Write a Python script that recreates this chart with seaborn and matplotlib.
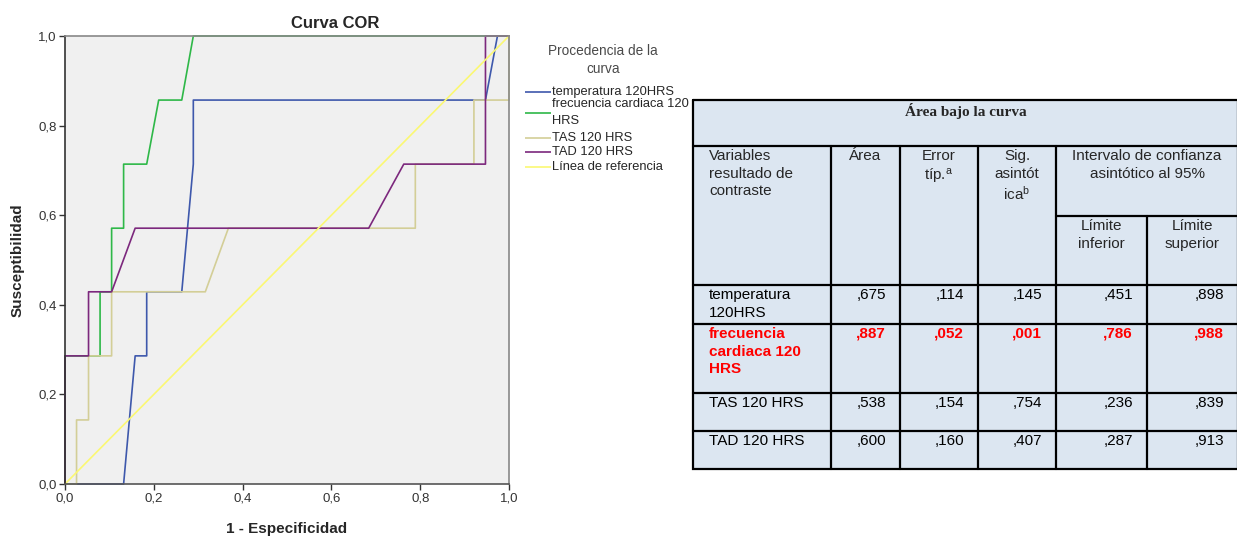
import numpy as np
import pandas as pd
import matplotlib
matplotlib.use("Agg")
import matplotlib.pyplot as plt
from matplotlib.patches import Rectangle
import seaborn as sns

# ---------------- data ----------------
series_names = ["temperatura 120HRS", "frecuencia cardiaca 120 HRS", "TAS 120 HRS", "TAD 120 HRS"]
legend_labels = ["temperatura 120HRS", "frecuencia cardiaca 120\nHRS", "TAS 120 HRS", "TAD 120 HRS",
                 "Línea de referencia"]
legend_title = "Procedencia de la\ncurva"

fpr_temp = [0.000, 0.132, 0.158, 0.184, 0.184, 0.263, 0.289, 0.289, 0.947, 0.974, 1.000]
tpr_temp = [0.000, 0.000, 0.286, 0.286, 0.429, 0.429, 0.714, 0.857, 0.857, 1.000, 1.000]

fpr_fc = [0.000, 0.000, 0.079, 0.079, 0.105, 0.105, 0.132, 0.132, 0.184, 0.211, 0.263, 0.289, 1.000]
tpr_fc = [0.000, 0.286, 0.286, 0.429, 0.429, 0.571, 0.571, 0.714, 0.714, 0.857, 0.857, 1.000, 1.000]

fpr_tas = [0.000, 0.026, 0.026, 0.053, 0.053, 0.105, 0.105, 0.316, 0.368, 0.789, 0.789, 0.921, 0.921, 1.000, 1.000]
tpr_tas = [0.000, 0.000, 0.143, 0.143, 0.286, 0.286, 0.429, 0.429, 0.571, 0.571, 0.714, 0.714, 0.857, 0.857, 1.000]

fpr_tad = [0.000, 0.000, 0.053, 0.053, 0.105, 0.158, 0.684, 0.763, 0.947, 0.947, 1.000]
tpr_tad = [0.000, 0.286, 0.286, 0.429, 0.429, 0.571, 0.571, 0.714, 0.714, 1.000, 1.000]

ref_x = [0.0, 1.0]
ref_y = [0.0, 1.0]

tick_values = [0.0, 0.2, 0.4, 0.6, 0.8, 1.0]
tick_labels = ["0,0", "0,2", "0,4", "0,6", "0,8", "1,0"]

# table data
table_title = "Área bajo la curva"
row_names = ["temperatura\n120HRS", "frecuencia\ncardiaca 120\nHRS", "TAS 120 HRS", "TAD 120 HRS"]
area = [0.675, 0.887, 0.538, 0.600]
error_tip = [0.114, 0.052, 0.154, 0.160]
sig_asint = [0.145, 0.001, 0.754, 0.407]
lim_inf = [0.451, 0.786, 0.236, 0.287]
lim_sup = [0.898, 0.988, 0.839, 0.913]
highlight_row = 1

# ---------------- style ----------------
sns.set_style("white")
plt.rcParams["font.family"] = ["Liberation Sans", "DejaVu Sans"]
plt.rcParams["mathtext.fontset"] = "custom"
plt.rcParams["mathtext.rm"] = "Liberation Sans"
plt.rcParams["mathtext.it"] = "Liberation Sans"

colors = ["#3E58AC", "#2EB848", "#D3CE97", "#7C287D"]
ref_color = "#FBF873"

W, H = 1237, 539
fig = plt.figure(figsize=(W / 100, H / 100), dpi=100)
fig.patch.set_facecolor("white")

# ---------------- ROC axes ----------------
ax = fig.add_axes([65 / W, 1 - 484 / H, 444 / W, 448 / H])
ax.set_facecolor("#F0F0F0")

frames = []
for name, fx, ty in zip(series_names, [fpr_temp, fpr_fc, fpr_tas, fpr_tad],
                        [tpr_temp, tpr_fc, tpr_tas, tpr_tad]):
    frames.append(pd.DataFrame({"fpr": fx, "tpr": ty, "serie": name}))
df = pd.concat(frames, ignore_index=True)

sns.lineplot(data=df, x="fpr", y="tpr", hue="serie", hue_order=series_names,
             palette=dict(zip(series_names, colors)), sort=False, estimator=None,
             legend=False, ax=ax, linewidth=1.2, clip_on=False)
sns.lineplot(x=ref_x, y=ref_y, color=ref_color, linewidth=1.2, ax=ax, clip_on=False)

ax.set_xlim(0, 1)
ax.set_ylim(0, 1)
ax.set_xticks(tick_values)
ax.set_xticklabels(tick_labels)
ax.set_yticks(tick_values)
ax.set_yticklabels(tick_labels)
ax.tick_params(axis="both", which="both", direction="out", length=4, width=1.0,
               color="#333333", labelsize=9.5, labelcolor="#333333", pad=2,
               bottom=True, left=True)
for side, sp in ax.spines.items():
    sp.set_visible(True)
    sp.set_linewidth(1.2)
    sp.set_color("#888888")
ax.spines["left"].set_color("#333333")
ax.spines["bottom"].set_color("#555555")

ax.set_title("Curva COR", fontsize=12, fontweight="bold", pad=6, x=0.608)
ax.set_xlabel("1 - Especificidad", fontsize=11, fontweight="bold", labelpad=13)
ax.set_ylabel("Susceptibilidad", fontsize=11, fontweight="bold", labelpad=10)

# ---------------- overlay axes in pixel coordinates ----------------
tx = fig.add_axes([0, 0, 1, 1])
tx.set_xlim(0, W)
tx.set_ylim(H, 0)
tx.set_axis_off()

# legend (drawn manually to match layout)
tx.text(603, 60, legend_title, ha="center", va="center", fontsize=9.8, color="#4a4a4a",
        linespacing=1.3, multialignment="center")
leg_y = [92, 112.5, 138, 152, 167]
for c, lab, yy in zip(colors + [ref_color], legend_labels, leg_y):
    tx.plot([525, 551], [yy, yy], color=c, lw=1.2, solid_capstyle="butt")
    tx.text(552, yy, lab, ha="left", va="center", fontsize=9.3, linespacing=1.55)

# table
cols_x = [693, 831, 900, 978, 1056, 1147, 1238]
top_y, title_bottom, sub_y, header_bottom = 100, 146, 216, 285
row_bottoms = [324, 393, 431, 469]

tx.add_patch(Rectangle((cols_x[0], top_y), cols_x[-1] - cols_x[0], row_bottoms[-1] - top_y,
                       facecolor="#DCE6F1", edgecolor="none", zorder=0))
lw = 1.6
tx.plot([cols_x[0], cols_x[-1], cols_x[-1], cols_x[0], cols_x[0]],
        [top_y, top_y, row_bottoms[-1], row_bottoms[-1], top_y], color="black", lw=lw,
        solid_joinstyle="miter")
for yy in [title_bottom, header_bottom] + row_bottoms[:-1]:
    tx.plot([cols_x[0], cols_x[-1]], [yy, yy], color="black", lw=lw)
tx.plot([cols_x[4], cols_x[-1]], [sub_y, sub_y], color="black", lw=lw)
for xx in cols_x[1:5]:
    tx.plot([xx, xx], [title_bottom, row_bottoms[-1]], color="black", lw=lw)
tx.plot([cols_x[5], cols_x[5]], [sub_y, row_bottoms[-1]], color="black", lw=lw)

tx.text((cols_x[0] + cols_x[-1]) / 2, 111, table_title, ha="center", va="center",
        fontsize=11, fontweight="bold", family="Liberation Serif")

fs = 11
ls = 1.32
hy = 149
tx.text(cols_x[0] + 16, hy, "Variables\nresultado de\ncontraste", ha="left", va="top",
        fontsize=fs, linespacing=ls)
tx.text((cols_x[1] + cols_x[2]) / 2, hy, "Área", ha="center", va="top", fontsize=fs)
tx.text((cols_x[2] + cols_x[3]) / 2, hy, "Error\ntíp.$^{\\mathrm{a}}$", ha="center", va="top",
        fontsize=fs, linespacing=ls)
tx.text((cols_x[3] + cols_x[4]) / 2, hy, "Sig.\nasintót\nica$^{\\mathrm{b}}$", ha="center",
        va="top", fontsize=fs, linespacing=ls)
tx.text((cols_x[4] + cols_x[6]) / 2, hy, "Intervalo de confianza\nasintótico al 95%",
        ha="center", va="top", fontsize=fs, linespacing=ls)
tx.text((cols_x[4] + cols_x[5]) / 2, 219, "Límite\ninferior", ha="center", va="top",
        fontsize=fs, linespacing=ls)
tx.text((cols_x[5] + cols_x[6]) / 2, 219, "Límite\nsuperior", ha="center", va="top",
        fontsize=fs, linespacing=ls)


def fmt(v):
    return f"{v:.3f}".lstrip("0").replace(".", ",")


row_tops = [header_bottom] + row_bottoms[:-1]
for i, name in enumerate(row_names):
    ytop = row_tops[i] + 3
    hl = i == highlight_row
    color = "#FF0000" if hl else "black"
    weight = "bold" if hl else "normal"
    tx.text(cols_x[0] + 16, ytop, name, ha="left", va="top", fontsize=fs,
            color=color, fontweight=weight, linespacing=ls)
    vals = [area[i], error_tip[i], sig_asint[i], lim_inf[i], lim_sup[i]]
    for j, v in enumerate(vals):
        tx.text(cols_x[j + 2] - 14, ytop, fmt(v), ha="right", va="top", fontsize=fs,
                color=color, fontweight=weight)

fig.savefig("out.png", dpi=100, facecolor="white")
